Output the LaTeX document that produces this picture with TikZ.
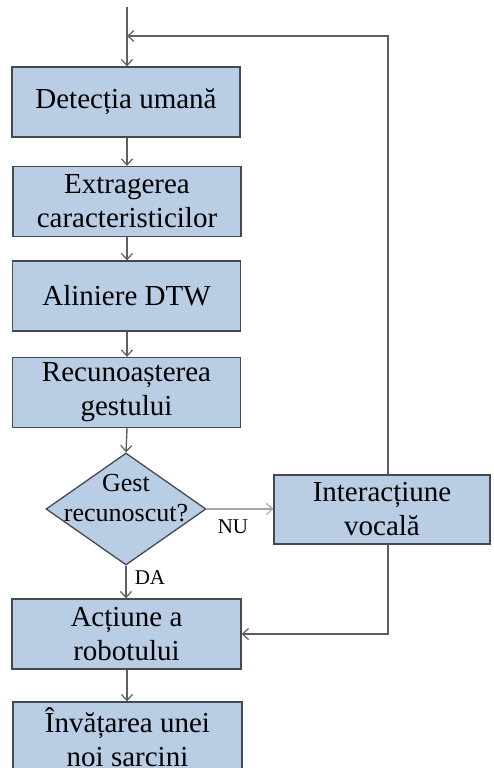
\documentclass[tikz,border=0pt]{standalone}
\usepackage{fontspec}
\setmainfont{Liberation Serif}
\usetikzlibrary{shapes.geometric,arrows.meta}
\definecolor{boxfill}{HTML}{B9CDE5}
\definecolor{boxline}{HTML}{454A50}
\definecolor{flow}{HTML}{5F5F5F}
\definecolor{flowlight}{HTML}{A8A8A8}
\tikzset{
  stepbox/.style={rectangle, draw=boxline, line width=1.3pt, fill=boxfill,
    minimum width=228pt, minimum height=70pt, inner sep=0pt, align=center,
    font=\fontsize{29}{34}\selectfont},
  decide/.style={diamond, draw=boxline, line width=1.3pt, fill=boxfill,
    minimum width=160pt, minimum height=112pt, inner sep=0pt},
  flowline/.style={draw=flow, line width=1.4pt,
    -{Straight Barb[length=6pt,width=11pt,line width=1.2pt]}},
  plainline/.style={draw=flow, line width=1.4pt},
  tag/.style={font=\fontsize{21}{24}\selectfont, inner sep=0pt}
}
\begin{document}
\begin{tikzpicture}[x=1pt,y=-1pt]
  \useasboundingbox (0,0) rectangle (493,768);

  % main column
  \node[stepbox] (det) at (126,102) {Detecția umană};
  \node[stepbox] (ext) at (127,201.5) {Extragerea\\caracteristicilor};
  \node[stepbox] (dtw) at (126.5,296) {Aliniere DTW};
  \node[stepbox] (rec) at (126.5,392.5) {Recunoașterea\\gestului};
  \node[decide] (dia) at (126,509) {};
  \node[font=\fontsize{26}{30}\selectfont, align=center, inner sep=0pt] (diat) at (126,498) {Gest\\recunoscut?};
  \node[stepbox, minimum width=229pt] (act) at (126.5,634) {Acțiune a\\robotului};
  \node[stepbox, minimum width=229pt] (inv) at (127.5,737) {Învățarea unei\\noi sarcini};

  % side branch
  \node[stepbox, minimum width=216pt, minimum height=69pt] (voc) at (382,509.5) {Interacțiune\\vocală};

  % entry and loop-back points
  \coordinate (start) at (127,7);
  \coordinate (merge) at (127,36);

  % connectors
  \draw[flowline] (start) -- (det.north -| start);
  \draw[flowline] (det.south -| start) -- (ext.north -| start);
  \draw[flowline] (ext.south -| start) -- (dtw.north -| start);
  \draw[flowline] (dtw.south -| start) -- (rec.north -| start);
  \draw[flowline] (rec.south -| start) -- (dia.north);
  \draw[flowline] (dia.south) -- (act.north -| dia.south);
  \draw[flowline] (act.south -| start) -- (inv.north -| start);
  \draw[flowline, draw=flowlight] (dia.east) -- (voc.west |- dia.east);
  \draw[flowline] ([xshift=6pt]voc.north) |- (merge);
  \draw[flowline] ([xshift=6pt]voc.south) |- (act.east);

  % branch labels
  \node[tag] (nu) at (233,527) {NU};
  \node[tag] (da) at (150,578) {DA};
\end{tikzpicture}
\end{document}
